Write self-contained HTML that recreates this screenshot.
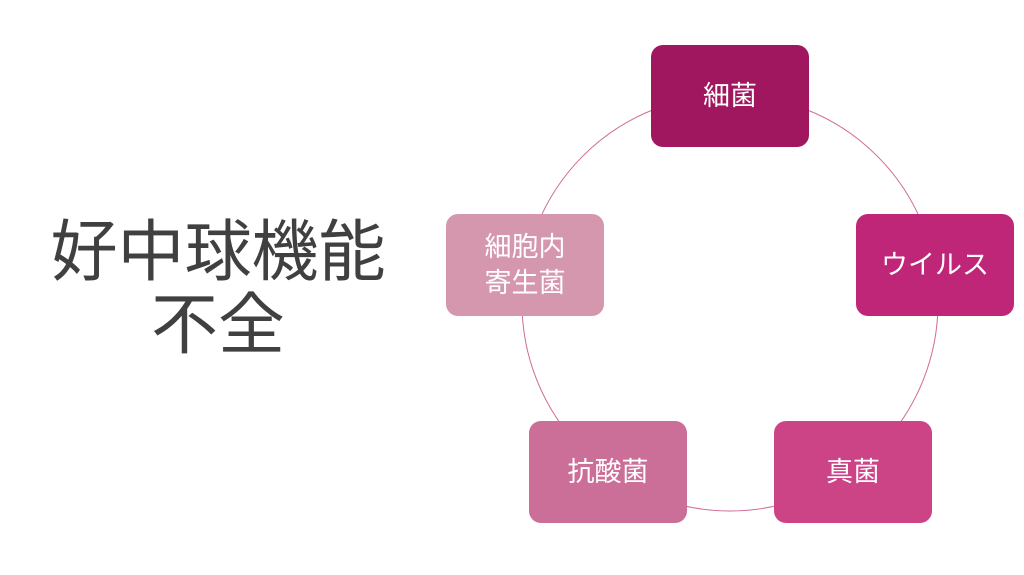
<!DOCTYPE html>
<html><head><meta charset="utf-8"><style>
body{margin:0;width:1024px;height:575px;background:#fff;position:relative;overflow:hidden;font-family:"Liberation Sans","Noto Sans CJK JP",sans-serif}
.t{position:absolute;left:18px;width:400px;text-align:center;color:#404040;font-size:67px;line-height:73px;top:216px}
.b{position:absolute;width:158px;height:102px;border-radius:12px;color:#fff;font-size:27px;display:flex;align-items:center;justify-content:center;text-align:center;line-height:36px}
</style></head><body>
<svg width="1024" height="575" style="position:absolute;left:0;top:0"><circle cx="730" cy="303" r="208" fill="none" stroke="#d06a98" stroke-width="1"/></svg>
<div class="t">好中球機能<br>不全</div>
<div class="b" style="left:651px;top:45px;background:#a1175f">細菌</div>
<div class="b" style="left:856px;top:214px;background:#bf2677">ウイルス</div>
<div class="b" style="left:774px;top:421px;background:#cd4486">真菌</div>
<div class="b" style="left:529px;top:421px;background:#cb6f99">抗酸菌</div>
<div class="b" style="left:446px;top:214px;background:#d497ae">細胞内<br>寄生菌</div>
</body></html>
